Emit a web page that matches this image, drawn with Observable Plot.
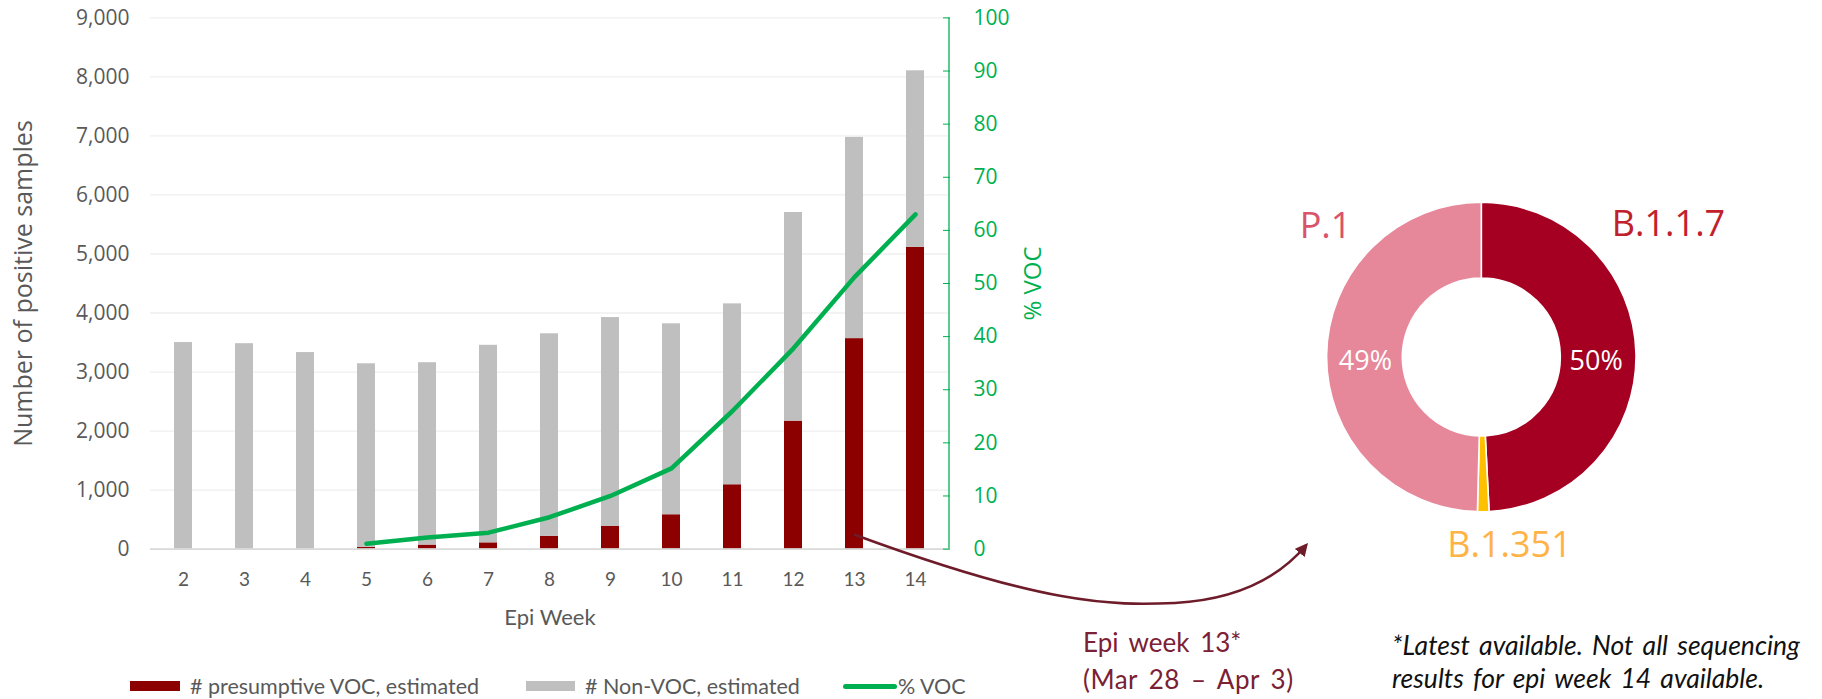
<!DOCTYPE html>
<html>
<head>
<meta charset="utf-8">
<script src="https://cdn.jsdelivr.net/npm/d3@7"></script>
<script src="https://cdn.jsdelivr.net/npm/@observablehq/plot@0.6"></script>
<style>
  html, body { margin: 0; padding: 0; background: #fff; }
  #root { position: relative; width: 1822px; height: 699px; overflow: hidden; background: #fff; }
  .abs { position: absolute; }
  .lg-text { font-family: Lato, "Liberation Sans", sans-serif; font-size: 21.5px; color: #595959; white-space: nowrap; line-height: 22px; }
  .anno { font-family: Lato, "Liberation Sans", sans-serif; font-size: 26px; word-spacing: 4px; color: #7B2035; white-space: nowrap; line-height: 37px; }
  .anno .l2 { letter-spacing: 0.5px; word-spacing: 4px; }
  .foot { font-family: Lato, "Liberation Sans", sans-serif; font-style: italic; font-size: 26.5px; word-spacing: 3px; color: #111; white-space: nowrap; line-height: 33px; }
</style>
</head>
<body>
<div id="root"></div>
<script>
// ---------------- data ----------------
const weeks = [2, 3, 4, 5, 6, 7, 8, 9, 10, 11, 12, 13, 14];
const vocCounts = [0, 0, 0, 30, 68, 106, 218, 388, 582, 1090, 2168, 3566, 5114];
const nonVocCounts = [3500, 3480, 3330, 3110, 3090, 3347, 3430, 3535, 3235, 3065, 3535, 3410, 2990];
const pctVOC = [null, null, null, 1.0, 2.2, 3.1, 6.0, 10.0, 15.2, 26.0, 37.8, 51.2, 63.0];
const leftTicks = [0, 1000, 2000, 3000, 4000, 5000, 6000, 7000, 8000, 9000];
const rightTicks = [0, 10, 20, 30, 40, 50, 60, 70, 80, 90, 100];
const seriesNames = ["# presumptive VOC, estimated", "# Non-VOC, estimated", "% VOC"];

const variants = ["B.1.1.7", "B.1.351", "P.1"];
const variantShares = [49.2, 1.2, 49.6];
const variantShareLabels = ["50%", "", "49%"];

// ---------------- styles ----------------
const RED = "#8C0000", GREY = "#BFBFBF", GREEN = "#00B050", AXIS_TXT = "#595959";
const variantColors = ["#A50021", "#FFC000", "#E6879A"];
const variantLabelColors = ["#C0212B", "#FFB347", "#D9536A"];
const SEGOE = "'Open Sans', 'DejaVu Sans', sans-serif";
const CALIBRI = "Lato, 'Liberation Sans', sans-serif";
const PCT_MAX = 100, COUNT_MAX = 9000, K = COUNT_MAX / PCT_MAX;

const root = document.getElementById("root");

// ---------------- bar + line chart ----------------
const barRows = weeks.flatMap((w, i) => [
  {week: w, series: "VOC", value: vocCounts[i]},
  {week: w, series: "NonVOC", value: nonVocCounts[i]}
]);
const lineRows = weeks.map((w, i) => ({week: w, pct: pctVOC[i]})).filter(d => d.pct != null);

const chart = Plot.plot({
  width: 1100,
  height: 640,
  marginLeft: 150,
  marginRight: 151,
  marginTop: 17.4,
  marginBottom: 91.4,
  style: {fontFamily: SEGOE, background: "transparent", overflow: "visible"},
  x: {type: "band", domain: weeks, paddingInner: 0.7, paddingOuter: 0.35},
  y: {domain: [0, COUNT_MAX]},
  color: {domain: ["VOC", "NonVOC"], range: [RED, GREY]},
  marks: [
    Plot.ruleY(leftTicks.filter(d => d > 0), {stroke: "#EFEFEF", strokeWidth: 1.3}),
    Plot.barY(barRows, {x: "week", y: "value", fill: "series", order: ["VOC", "NonVOC"]}),
    Plot.ruleY([0], {stroke: "#D9D9D9", strokeWidth: 1.6}),
    Plot.line(lineRows, {x: "week", y: d => d.pct * K, stroke: GREEN, strokeWidth: 4.5, strokeLinecap: "round", strokeLinejoin: "round"}),
    // left axis
    Plot.axisY({ticks: leftTicks, tickSize: 0, tickPadding: 21, tickFormat: d3.format(","), fontSize: 21, fill: AXIS_TXT, fontFamily: SEGOE, label: null}),
    // right axis (percent)
    Plot.axisY({anchor: "right", ticks: rightTicks.map(d => d * K), tickSize: 0, tickPadding: 24, tickFormat: d => Math.round(d / K), fontSize: 21, fill: GREEN, fontFamily: SEGOE, label: null}),
    Plot.axisY({anchor: "right", ticks: rightTicks.map(d => d * K), tickSize: 7, insetRight: 7, tickFormat: () => "", stroke: GREEN, label: null}),
    (index, scales, values, dims) => {
      const x = dims.width - dims.marginRight;
      return d3.create("svg:line")
        .attr("x1", x).attr("x2", x)
        .attr("y1", dims.marginTop).attr("y2", dims.height - dims.marginBottom)
        .attr("stroke", GREEN).attr("stroke-width", 1.3).node();
    },
    // x axis
    Plot.axisX({tickSize: 0, tickPadding: 23, fontSize: 19, fill: AXIS_TXT, fontFamily: CALIBRI, label: null}),
    Plot.text(["Epi Week"], {frameAnchor: "bottom", dy: 76, fontSize: 22, fill: AXIS_TXT, fontFamily: CALIBRI}),
    Plot.text(["Number of positive samples"], {frameAnchor: "left", dx: -127, rotate: -90, textAnchor: "middle", lineAnchor: "middle", fontSize: 25, fill: AXIS_TXT, fontFamily: SEGOE}),
    Plot.text(["% VOC"], {frameAnchor: "right", dx: 84, rotate: -90, textAnchor: "middle", lineAnchor: "middle", fontSize: 24, fill: GREEN, fontFamily: SEGOE})
  ]
});
chart.style.position = "absolute";
chart.style.left = "0px";
chart.style.top = "0px";
root.appendChild(chart);

// ---------------- legend ----------------
const legendItems = [
  {name: seriesNames[0], kind: "rect", color: RED, left: 130, w: 50, textLeft: 190},
  {name: seriesNames[1], kind: "rect", color: GREY, left: 526, w: 49, textLeft: 585},
  {name: seriesNames[2], kind: "line", color: GREEN, left: 843, w: 54, textLeft: 898}
];
for (const it of legendItems) {
  const sw = document.createElement("div");
  sw.className = "abs";
  sw.style.left = it.left + "px";
  sw.style.width = it.w + "px";
  sw.style.background = it.color;
  if (it.kind === "rect") { sw.style.top = "681px"; sw.style.height = "10px"; }
  else { sw.style.top = "684px"; sw.style.height = "4.5px"; sw.style.borderRadius = "3px"; }
  root.appendChild(sw);
  const t = document.createElement("div");
  t.className = "abs lg-text";
  t.style.left = it.textLeft + "px";
  t.style.top = "675px";
  t.textContent = it.name;
  root.appendChild(t);
}

// ---------------- donut ----------------
const donutRows = variants.map((v, i) => ({variant: v, share: variantShares[i], color: variantColors[i], label: variantShareLabels[i]}));
const CX = 201.3, CY = 187, R_OUT = 154.7, R_IN = 79;
const pieArcs = d3.pie().sort(null).value(d => d.share)(donutRows);
const arcGen = d3.arc().innerRadius(R_IN).outerRadius(R_OUT);
const donut = Plot.plot({
  width: 542,
  height: 430,
  margin: 0,
  style: {fontFamily: SEGOE, background: "transparent", overflow: "visible"},
  marks: [
    (index, scales, values, dims) => {
      const g = d3.create("svg:g").attr("transform", `translate(${CX},${CY})`);
      g.selectAll("path").data(pieArcs).join("path")
        .attr("d", arcGen).attr("fill", d => d.data.color)
        .attr("stroke", "#fff").attr("stroke-width", 1.6).attr("stroke-linejoin", "round");
      g.selectAll("text").data(pieArcs.filter(d => d.data.label)).join("text")
        .attr("x", d => arcGen.centroid(d)[0] + (arcGen.centroid(d)[0] > 0 ? -2 : 1))
        .attr("y", 4)
        .attr("dy", "0.35em")
        .attr("text-anchor", "middle")
        .attr("fill", "#fff").attr("font-size", 27).attr("font-family", SEGOE)
        .text(d => d.data.label);
      return g.node();
    },
    Plot.text([variants[2]], {frameAnchor: "top-left", dx: 45, dy: 56, textAnchor: "middle", lineAnchor: "middle", fontSize: 36, fill: variantLabelColors[2], fontFamily: SEGOE}),
    Plot.text([variants[0]], {frameAnchor: "top-left", dx: 388, dy: 54, textAnchor: "middle", lineAnchor: "middle", fontSize: 36, fill: variantLabelColors[0], fontFamily: SEGOE}),
    Plot.text([variants[1]], {frameAnchor: "top-left", dx: 229, dy: 375, textAnchor: "middle", lineAnchor: "middle", fontSize: 36, fill: variantLabelColors[1], fontFamily: SEGOE})
  ]
});
donut.style.position = "absolute";
donut.style.left = "1280px";
donut.style.top = "170px";
root.appendChild(donut);

// ---------------- annotation arrow ----------------
const xs = chart.scale("x"), ys = chart.scale("y");
const sx = xs.apply(13) + xs.bandwidth / 2;
const sy = ys.apply(240);
const ex = 1280 + CX - 175, ey = 170 + CY + 188;
const overlay = d3.create("svg")
  .attr("width", 1822).attr("height", 699)
  .style("position", "absolute").style("left", "0px").style("top", "0px").style("pointer-events", "none");
overlay.append("defs").append("marker")
  .attr("id", "ah").attr("viewBox", "0 0 10 10").attr("refX", 8).attr("refY", 5)
  .attr("markerWidth", 5).attr("markerHeight", 5).attr("orient", "auto")
  .append("path").attr("d", "M0,0 L10,5 L0,10 z").attr("fill", "#6E1C2A");
overlay.append("path")
  .attr("d", `M${sx},${sy} C${sx + 190},${sy + 70} ${1110},${606} ${1175},${603} Q${1262},${598} ${ex},${ey}`)
  .attr("fill", "none").attr("stroke", "#6E1C2A").attr("stroke-width", 2.6)
  .attr("marker-end", "url(#ah)");
root.appendChild(overlay.node());

// ---------------- annotation texts ----------------
const a1 = document.createElement("div");
a1.className = "abs anno";
a1.style.left = "1083px";
a1.style.top = "624px";
a1.innerHTML = "Epi week 13*<br><span class=\"l2\">(Mar 28 – Apr 3)</span>";
root.appendChild(a1);

const f1 = document.createElement("div");
f1.className = "abs foot";
f1.style.left = "1392px";
f1.style.top = "629px";
f1.innerHTML = "*Latest available. Not all sequencing<br>results for epi week 14 available.";
root.appendChild(f1);
</script>
</body>
</html>
